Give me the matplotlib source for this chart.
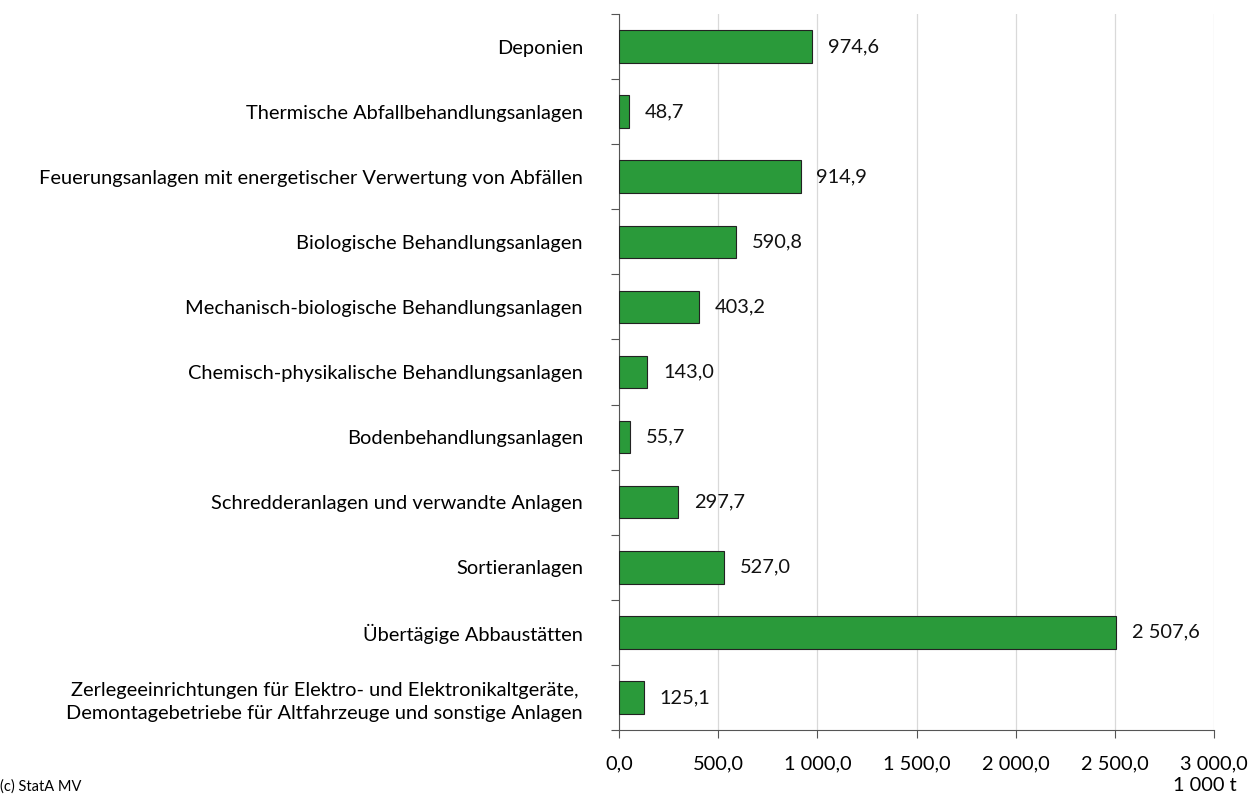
import matplotlib
matplotlib.use("Agg")
import matplotlib.pyplot as plt
from matplotlib.ticker import FuncFormatter, FixedLocator
import numpy as np

plt.rcParams['font.family'] = ['Lato', 'DejaVu Sans']

categories = [
    "Deponien",
    "Thermische Abfallbehandlungsanlagen",
    "Feuerungsanlagen mit energetischer Verwertung von Abfällen",
    "Biologische Behandlungsanlagen",
    "Mechanisch-biologische Behandlungsanlagen",
    "Chemisch-physikalische Behandlungsanlagen",
    "Bodenbehandlungsanlagen",
    "Schredderanlagen und verwandte Anlagen",
    "Sortieranlagen",
    "Übertägige Abbaustätten",
    "Zerlegeeinrichtungen für Elektro- und Elektronikaltgeräte,\nDemontagebetriebe für Altfahrzeuge und sonstige Anlagen",
]
values = [974.6, 48.7, 914.9, 590.8, 403.2, 143.0, 55.7, 297.7, 527.0, 2507.6, 125.1]

FS = 14.4


def fmt_de(v, pos=None):
    s = f"{v:,.1f}"
    return s.replace(",", " ").replace(".", ",")


fig = plt.figure(figsize=(12.59, 7.94), dpi=100)
ax = fig.add_axes([0.4917, 0.0806, 0.4726, 0.9018])

y = np.arange(len(categories))
ax.barh(y, values, height=0.5, color="#2a9a3a", edgecolor="#222222", linewidth=0.8, zorder=3)
for yi, v in zip(y, values):
    ax.text(v + 80, yi, fmt_de(v), va="center", ha="left", fontsize=FS, color="#111111")

ax.set_xlim(0, 3000)
ax.set_ylim(len(categories) - 0.5, -0.5)
ax.set_xticks(np.arange(0, 3001, 500))
ax.xaxis.set_major_formatter(FuncFormatter(fmt_de))
ax.grid(axis="x", color="#d9d9d9", linewidth=0.9, zorder=0)

ax.yaxis.set_major_locator(FixedLocator(np.arange(-0.5, len(categories), 1.0)))
ax.yaxis.set_major_formatter(FuncFormatter(lambda v, p: ""))
ax.yaxis.set_minor_locator(FixedLocator(y))
ax.set_yticklabels(categories, minor=True)
ax.tick_params(axis="y", which="minor", length=0, pad=26, labelsize=FS)
ax.tick_params(axis="y", which="major", length=6, color="#555555")
ax.tick_params(axis="x", length=6, color="#555555", labelsize=FS, pad=12)
for lbl in ax.get_yticklabels(minor=True):
    lbl.set_multialignment("center")
    lbl.set_linespacing(1.45)

for side in ["top", "right"]:
    ax.spines[side].set_visible(False)
ax.spines["left"].set_color("#555555")
ax.spines["bottom"].set_color("#555555")

fig.text(0.982, 0.0, "1 000 t", ha="right", va="bottom", fontsize=FS)
fig.text(0.0, 0.0, "(c) StatA MV", ha="left", va="bottom", fontsize=10.5)

fig.savefig("out.png", dpi=100)
